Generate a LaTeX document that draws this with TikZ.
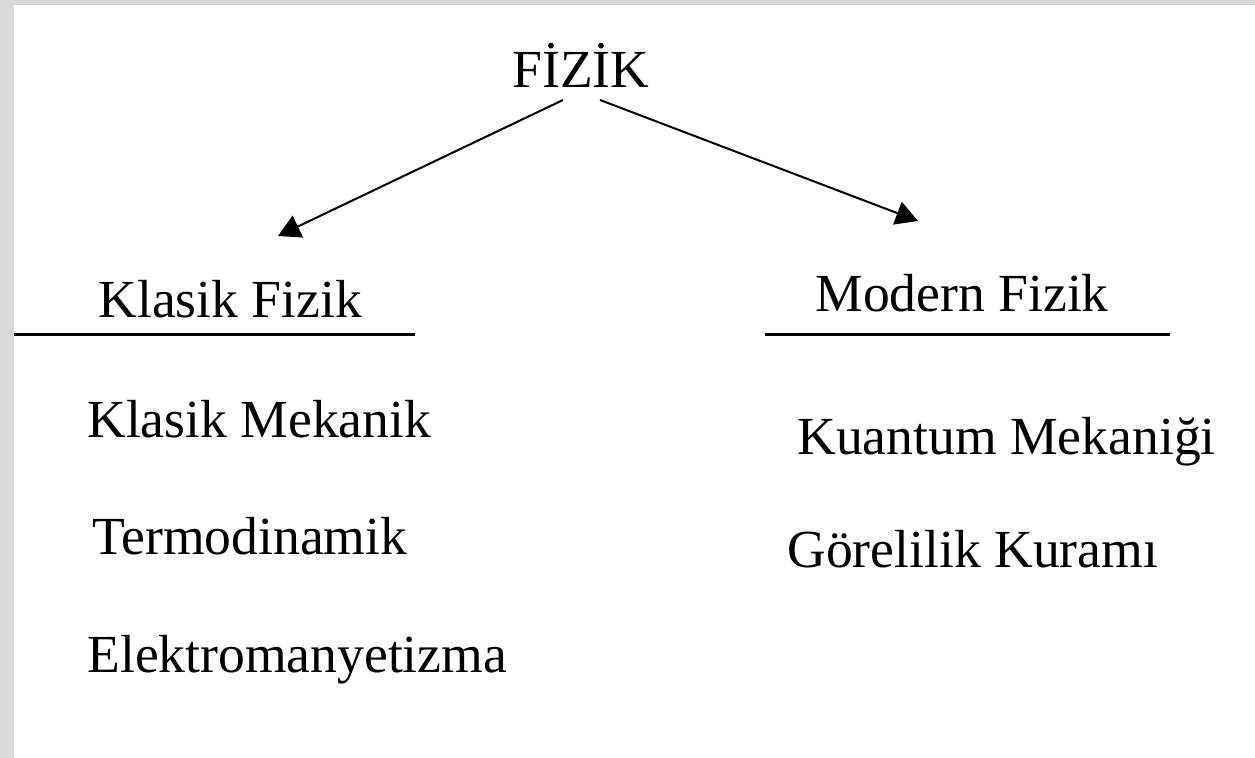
\documentclass[tikz,border=0pt]{standalone}
\usepackage{fontspec}
\setmainfont{Liberation Serif}
\usetikzlibrary{arrows.meta}
\definecolor{bggrey}{HTML}{D9D9D9}
\begin{document}
\begin{tikzpicture}[x=0.5pt,y=-0.5pt,
  lbl/.style={anchor=base west,inner sep=0pt,font=\fontsize{26.8}{30}\selectfont},
  rulel/.style={line width=1.5pt},
  arr/.style={line width=1pt,-{Triangle[length=11pt,width=12pt]}}]
\fill[bggrey] (0,0) rectangle (1255,758);
\fill[white] (14,5) rectangle (1255,758);
\useasboundingbox (0,0) rectangle (1255,758);
\node[lbl] (fizik) at (512,88) {FİZİK};
\node[lbl] (klasik) at (98,318) {Klasik Fizik};
\node[lbl] (modern) at (815,312) {Modern Fizik};
\node[lbl] (km) at (87,438) {Klasik Mekanik};
\node[lbl] (termo) at (92,555) {Termodinamik};
\node[lbl] (elektro) at (87,673) {Elektromanyetizma};
\node[lbl] (kuantum) at (797,455) {Kuantum Mekaniği};
\node[lbl] (gorel) at (787,568) {Görelilik Kuramı};
\coordinate (ls) at (563,100);
\coordinate (le) at (278,236);
\coordinate (rs) at (600,100);
\coordinate (re) at (918,221);
\draw[arr] (ls) -- (le);
\draw[arr] (rs) -- (re);
\coordinate (l1a) at (14,335);
\coordinate (l1b) at (415,335);
\coordinate (l2a) at (765,335);
\coordinate (l2b) at (1170,335);
\draw[rulel] (l1a) -- (l1b);
\draw[rulel] (l2a) -- (l2b);
\end{tikzpicture}
\end{document}
